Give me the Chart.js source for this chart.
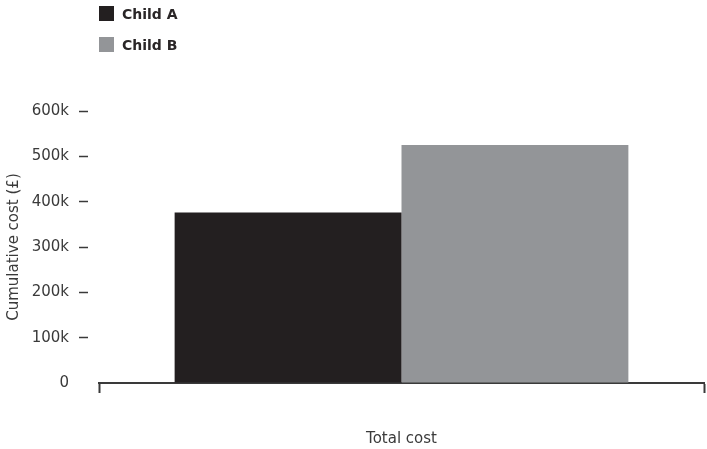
<!DOCTYPE html>
<html>
<head>
<meta charset="utf-8">
<script src="https://cdn.jsdelivr.net/npm/chart.js@4"></script>
<style>
    html, body { margin: 0; padding: 0; background: #fff; }
    #wrap { position: relative; width: 707px; height: 449px; }
    #legend { position: absolute; left: 99px; top: 6px; font-family: "DejaVu Sans", sans-serif; font-size: 14px; font-weight: bold; color: #2a2627; }
    #legend .item { display: flex; align-items: center; height: 15px; margin-bottom: 16px; }
    #legend .swatch { width: 15px; height: 15px; margin-right: 8px; }
</style>
</head>
<body>
<div id="wrap">
    <canvas id="costChart" width="707" height="449"></canvas>
    <div id="legend"></div>
</div>
<script>
// Data
const categories = ['Total cost'];
const seriesNames = ['Child A', 'Child B'];
const childA = [376000];
const childB = [525000];
const yTicks = [0, 100000, 200000, 300000, 400000, 500000, 600000];

const colors = ['#231f20', '#939598'];
const textColor = '#3a3a3a';
const fontFamily = '"DejaVu Sans", sans-serif';

/**
 * Build the HTML legend from the datasets
 */
function renderLegend(chart) {
    const box = document.getElementById('legend');
    box.innerHTML = '';
    chart.data.datasets.forEach(ds => {
        const item = document.createElement('div');
        item.className = 'item';
        item.innerHTML = `<span class="swatch" style="background:${ds.backgroundColor}"></span>${ds.label}`;
        box.appendChild(item);
    });
}

function formatK(v) {
    return v === 0 ? '0' : (v / 1000) + 'k';
}

const ctx = document.getElementById('costChart').getContext('2d');
const chart = new Chart(ctx, {
    type: 'bar',
    data: {
        labels: categories,
        datasets: [
            { label: seriesNames[0], data: childA, backgroundColor: colors[0] },
            { label: seriesNames[1], data: childB, backgroundColor: colors[1] }
        ]
    },
    options: {
        responsive: false,
        animation: false,
        categoryPercentage: 0.75,
        barPercentage: 1,
        layout: { padding: { top: 111, right: 3, bottom: 0, left: 0 } },
        plugins: {
            legend: { display: false },
            tooltip: { enabled: false }
        },
        scales: {
            x: {
                offset: true,
                afterFit: (scale) => { scale.height = 66; },
                border: { display: true, color: '#3a3a3a', width: 2 },
                grid: {
                    offset: true,
                    drawOnChartArea: false,
                    tickLength: 10,
                    tickColor: '#3a3a3a',
                    tickWidth: 2
                },
                ticks: {
                    color: textColor,
                    padding: 37,
                    font: { family: fontFamily, size: 15 }
                }
            },
            y: {
                min: 0,
                max: 600000,
                afterBuildTicks: (scale) => {
                    scale.ticks = yTicks.map(v => ({ value: v }));
                },
                afterFit: (scale) => { scale.width = 99; },
                border: { display: false },
                grid: {
                    drawOnChartArea: false,
                    tickLength: 20,
                    tickWidth: 1.5,
                    tickBorderDash: [9, 40],
                    tickColor: (c) => (c.tick && c.tick.value === 0) ? 'rgba(0,0,0,0)' : '#3a3a3a'
                },
                ticks: {
                    color: textColor,
                    padding: 10,
                    font: { family: fontFamily, size: 15 },
                    callback: (v) => formatK(v)
                },
                title: {
                    display: true,
                    text: 'Cumulative cost (£)',
                    color: textColor,
                    font: { family: fontFamily, size: 15 },
                    padding: { top: 5, bottom: 0 }
                }
            }
        }
    }
});

renderLegend(chart);
</script>
</body>
</html>
